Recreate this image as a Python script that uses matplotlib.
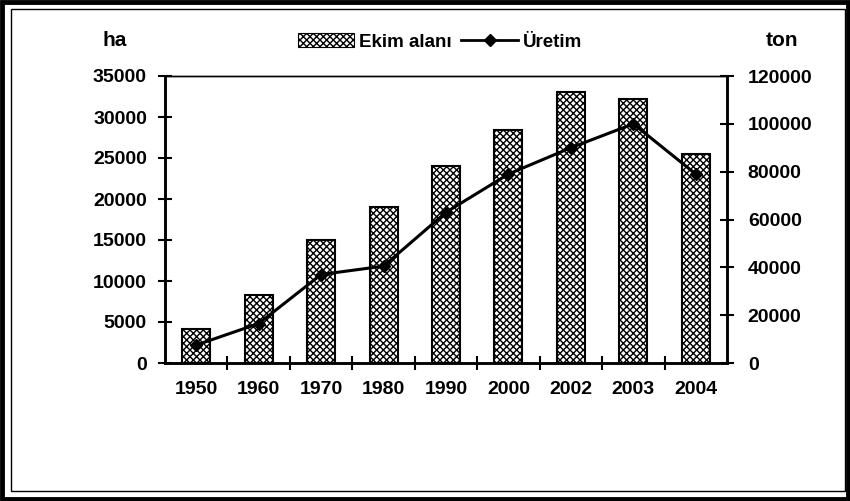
import matplotlib.pyplot as plt
import numpy as np
from matplotlib.patches import Rectangle, Patch
from matplotlib.lines import Line2D

plt.rcParams['font.family'] = ['Liberation Sans', 'DejaVu Sans']
plt.rcParams['font.weight'] = 'bold'
plt.rcParams['hatch.linewidth'] = 1.0

# Data
years = ['1950', '1960', '1970', '1980', '1990', '2000', '2002', '2003', '2004']
ekim_alani = [4100, 8350, 15000, 19000, 24000, 28400, 33100, 32200, 25450]   # ha
uretim = [7500, 16500, 37000, 40500, 63000, 79000, 90000, 100000, 79000]      # ton

fig = plt.figure(figsize=(8.5, 5.01), dpi=100)
ax = fig.add_axes([165/850, 1-363/501, (727-165)/850, (363-76)/501])
ax2 = ax.twinx()

x = np.arange(len(years))
ax.bar(x, ekim_alani, width=0.45, color='white', edgecolor='black',
       hatch='xxxxx', linewidth=1.5, zorder=2)
ax2.plot(x, uretim, color='black', lw=2.2, marker='D', ms=6, zorder=3)

ax.set_xlim(-0.5, len(years) - 0.5)
ax.set_ylim(0, 35000)
ax2.set_ylim(0, 120000)
ax.set_yticks(np.arange(0, 35001, 5000))
ax2.set_yticks(np.arange(0, 120001, 20000))
ax.set_xticks(x)
ax.set_xticklabels(years)
ax.set_xticks(np.arange(0.5, len(years) - 1, 1), minor=True)

ax.tick_params(axis='x', which='major', length=0, pad=13, labelsize=14)
ax.tick_params(axis='x', which='minor', direction='inout', length=10, width=1.5)
ax.tick_params(axis='y', direction='inout', length=10, width=1.5, pad=8, labelsize=14)
ax2.tick_params(axis='y', direction='inout', length=10, width=1.5, pad=10, labelsize=14)

for a in (ax, ax2):
    for side in ('left', 'right', 'bottom'):
        a.spines[side].set_linewidth(1.8)
    a.spines['top'].set_linewidth(1.0)

fig.text(115/850, 1-40/501, 'ha', ha='center', va='center', fontsize=15, fontweight='bold')
fig.text(782/850, 1-40/501, 'ton', ha='center', va='center', fontsize=15, fontweight='bold')

handles = [Patch(facecolor='white', edgecolor='black', hatch='xxxxx', lw=0.8),
           Line2D([0], [0], color='black', lw=2, marker='D', ms=6)]
fig.legend(handles, ['Ekim alanı', 'Üretim'], loc='center', ncol=2,
           bbox_to_anchor=(440/850, 1-42/501), frameon=False, fontsize=13.5,
           handlelength=3.0, handletextpad=0.3, columnspacing=0.5)

# double frame around the figure
fig.patches.append(Rectangle((2/850, 2/501), 846/850, 497/501, transform=fig.transFigure,
                             fill=False, edgecolor='black', lw=3.5))
fig.patches.append(Rectangle((11/850, 10/501), 834/850, 482/501, transform=fig.transFigure,
                             fill=False, edgecolor='black', lw=1.0))

fig.savefig('out.png', dpi=100)
